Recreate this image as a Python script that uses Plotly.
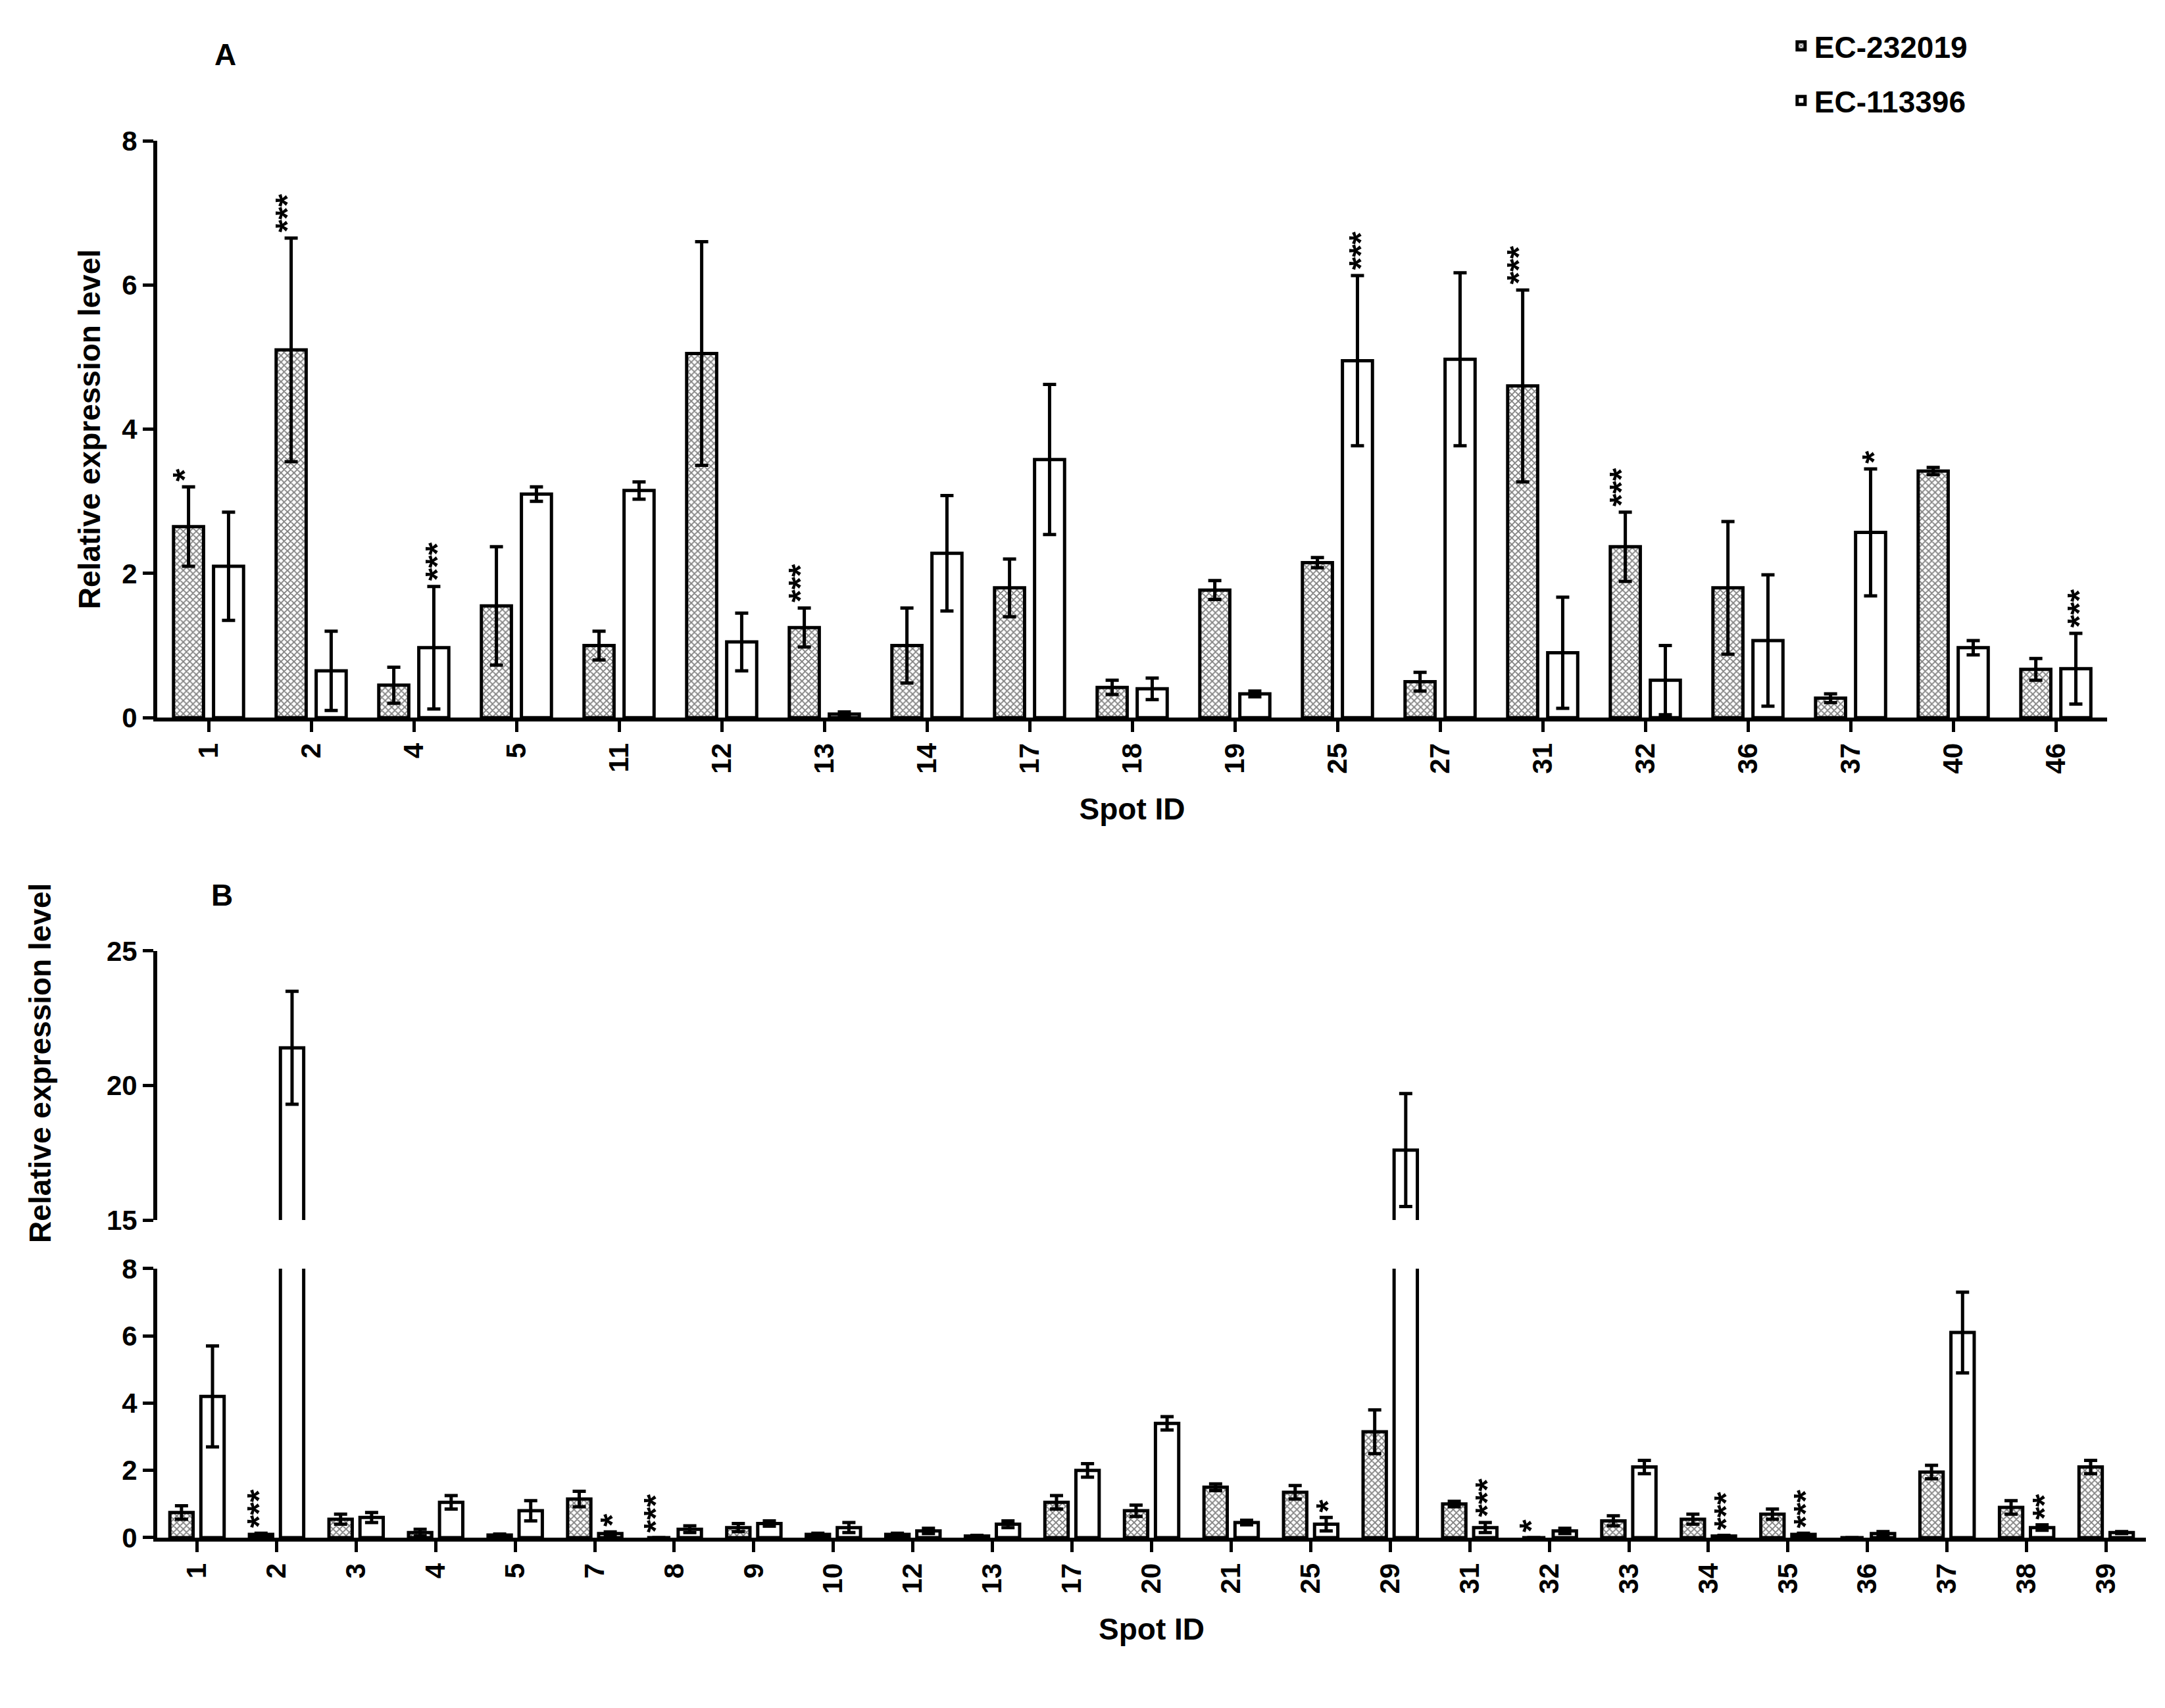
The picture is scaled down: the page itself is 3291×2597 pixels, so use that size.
import plotly.graph_objects as go

# Panel A data
spots_a = ["1", "2", "4", "5", "11", "12", "13", "14", "17", "18", "19", "25", "27", "31", "32", "36", "37", "40", "46"]
ec232_a = [2.65, 5.1, 0.45, 1.55, 1.0, 5.05, 1.25, 1.0, 1.8, 0.42, 1.77, 2.15, 0.5, 4.6, 2.37, 1.8, 0.27, 3.42, 0.67]
ec232_a_err = [0.55, 1.55, 0.25, 0.82, 0.2, 1.55, 0.27, 0.52, 0.4, 0.1, 0.13, 0.07, 0.13, 1.33, 0.48, 0.92, 0.06, 0.05, 0.15]
ec113_a = [2.1, 0.65, 0.97, 3.1, 3.15, 1.05, 0.05, 2.28, 3.58, 0.4, 0.33, 4.95, 4.97, 0.9, 0.52, 1.07, 2.57, 0.97, 0.68]
ec113_a_err = [0.75, 0.55, 0.85, 0.1, 0.12, 0.4, 0.03, 0.8, 1.04, 0.15, 0.04, 1.18, 1.2, 0.77, 0.48, 0.91, 0.88, 0.1, 0.49]
# (spot, series: 0=EC-232019, 1=EC-113396, label)
stars_a = [("1", 0, "*"), ("2", 0, "***"), ("4", 1, "***"), ("13", 0, "***"), ("25", 1, "***"),
           ("31", 0, "***"), ("32", 0, "***"), ("37", 1, "*"), ("46", 1, "***")]

# Panel B data
spots_b = ["1", "2", "3", "4", "5", "7", "8", "9", "10", "12", "13", "17", "20", "21", "25", "29",
           "31", "32", "33", "34", "35", "36", "37", "38", "39"]
ec232_b = [0.75, 0.1, 0.55, 0.15, 0.08, 1.15, 0.0, 0.3, 0.1, 0.1, 0.05, 1.05, 0.8, 1.5, 1.35, 3.15,
           1.0, 0.0, 0.5, 0.55, 0.7, 0.0, 1.95, 0.9, 2.1]
ec232_b_err = [0.2, 0.03, 0.15, 0.1, 0.03, 0.23, 0.0, 0.12, 0.03, 0.03, 0.02, 0.2, 0.17, 0.1, 0.2, 0.65,
               0.08, 0.0, 0.15, 0.15, 0.15, 0.0, 0.2, 0.2, 0.2]
ec113_b = [4.2, 21.4, 0.6, 1.05, 0.8, 0.12, 0.25, 0.42, 0.3, 0.2, 0.4, 2.0, 3.4, 0.45, 0.4, 17.6,
           0.3, 0.2, 2.1, 0.05, 0.1, 0.12, 6.1, 0.3, 0.15]
ec113_b_err = [1.5, 2.1, 0.15, 0.2, 0.3, 0.05, 0.1, 0.08, 0.15, 0.08, 0.1, 0.2, 0.2, 0.07, 0.2, 2.1,
               0.15, 0.08, 0.2, 0.02, 0.03, 0.06, 1.2, 0.08, 0.03]
stars_b = [("2", 0, "***"), ("7", 1, "*"), ("8", 0, "***"), ("25", 1, "*"), ("31", 1, "***"),
           ("32", 0, "*"), ("34", 1, "***"), ("35", 1, "***"), ("38", 1, "**")]

FONT = "Liberation Sans"
pattern = dict(shape="x", fgcolor="black", bgcolor="white", size=7, solidity=0.45, fillmode="overlay")


def bars(x, y, err, patterned, xa, ya, show):
    return go.Bar(
        x=x, y=y, xaxis=xa, yaxis=ya,
        name="EC-232019" if patterned else "EC-113396",
        showlegend=show, legendgroup="p" if patterned else "w",
        marker=dict(color="white", line=dict(color="black", width=5),
                    pattern=pattern if patterned else None),
        error_y=dict(type="data", array=err, color="black", thickness=5, width=10),
    )


fig = go.Figure()
fig.add_trace(bars(spots_a, ec232_a, ec232_a_err, True, "x", "y", True))
fig.add_trace(bars(spots_a, ec113_a, ec113_a_err, False, "x", "y", True))
for xa, ya in (("x2", "y2"), ("x3", "y3")):
    fig.add_trace(bars(spots_b, ec232_b, ec232_b_err, True, xa, ya, False))
    fig.add_trace(bars(spots_b, ec113_b, ec113_b_err, False, xa, ya, False))

ann = []


def add_stars(stars, spots, vals, errs, xref, yref, shift):
    for spot, s, lab in stars:
        i = spots.index(spot)
        top = vals[s][i] + errs[s][i]
        ann.append(dict(x=i, y=top, xref=xref, yref=yref, text="<b>" + lab + "</b>", showarrow=False,
                        textangle=-90, xanchor="center", yanchor="bottom",
                        xshift=(-shift if s == 0 else shift), yshift=6,
                        font=dict(family=FONT, size=50, color="black")))


add_stars(stars_a, spots_a, [ec232_a, ec113_a], [ec232_a_err, ec113_a_err], "x", "y", 36)
add_stars(stars_b, spots_b, [ec232_b, ec113_b], [ec232_b_err, ec113_b_err], "x2", "y2", 27)

txt = dict(family=FONT, size=46, color="black", weight="bold")
ann += [
    dict(x=0, y=1.075, xref="paper", yref="paper", text="<b>A</b>", showarrow=False, xshift=85, font=txt),
    dict(x=0, y=0.46, xref="paper", yref="paper", text="<b>B</b>", showarrow=False, xshift=80, font=txt),
    dict(x=-0.068, y=0.21, xref="paper", yref="paper", text="<b>Relative expression level</b>",
         showarrow=False, textangle=-90, font=txt),
]

axis_common = dict(showline=True, linecolor="black", linewidth=6, ticks="outside", ticklen=16,
                   tickwidth=5, tickcolor="black", showgrid=False, zeroline=False,
                   tickfont=dict(family=FONT, size=42, color="black", weight="bold"))

fig.update_layout(
    width=3291, height=2597, plot_bgcolor="white", paper_bgcolor="white",
    margin=dict(l=231, r=37, t=206, b=267),
    barmode="group", bargap=0.22, bargroupgap=0.25,
    font=dict(family=FONT, color="black"),
    annotations=ann,
    legend=dict(x=0.82, y=1.085, xanchor="left", yanchor="top",
                font=dict(family=FONT, size=46, weight="bold"), tracegroupgap=20),
    xaxis=dict(axis_common, type="category", range=[-0.5, len(spots_a) - 0.5],
               domain=[0, 0.9805], anchor="y", tickangle=-90,
               title=dict(text="<b>Spot ID</b>", font=txt, standoff=40)),
    yaxis=dict(axis_common, domain=[0.587, 1], range=[0, 8], dtick=2, anchor="x",
               title=dict(text="<b>Relative expression level</b>", font=txt, standoff=20)),
    xaxis2=dict(axis_common, type="category", range=[-0.5, len(spots_b) - 0.5],
                domain=[0, 1], anchor="y2", tickangle=-90,
                title=dict(text="<b>Spot ID</b>", font=txt, standoff=40)),
    yaxis2=dict(axis_common, domain=[0, 0.1926], range=[0, 8], dtick=2, anchor="x2"),
    xaxis3=dict(type="category", range=[-0.5, len(spots_b) - 0.5], domain=[0, 1],
                anchor="y3", visible=False),
    yaxis3=dict(axis_common, domain=[0.2274, 0.42], range=[15, 25], dtick=5, anchor="x3"),
)

fig.write_html("out.html")
